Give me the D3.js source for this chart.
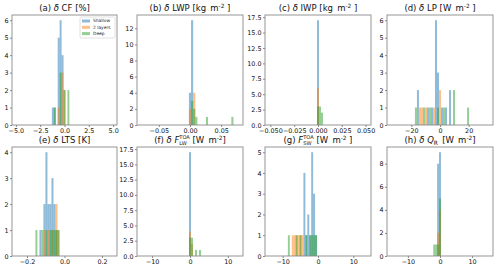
<!DOCTYPE html>
<html><head><meta charset="utf-8">
<script src="https://cdn.jsdelivr.net/npm/d3@7"></script>
<style>
body{margin:0;background:#fff;}
svg{display:block;}
text{font-family:"DejaVu Sans",sans-serif;}
</style>
</head><body>
<svg id="chart" width="500" height="268"></svg>
<script>
// ---------------- data ----------------
const seriesNames = ["Shallow", "2 layers", "Deep"];
const panelLetters = ["a", "b", "c", "d", "e", "f", "g", "h"];
// histogram bin widths (shared by the three groups in each panel)
const binWidths = [0.2, 0.0034, 0.0021, 1.4, 0.0107, 0.53, 0.55, 0.6];
// symmetric x-limits
const xLimits = [5.4, 0.085, 0.0557, 37, 0.28, 14, 15, 16.5];
const xTicks = [[-5, -2.5, 0, 2.5, 5], [-0.05, 0, 0.05], [-0.05, -0.025, 0, 0.025, 0.05], [-20, 0, 20],
                [-0.2, 0, 0.2], [-10, 0, 10], [-10, 0, 10], [-10, 0, 10]];
const xTickFormats = [".1f", ".2f", ".3f", "d", ".1f", "d", "d", "d"];
const yTicks = [[0, 1, 2, 3, 4, 5, 6], [0, 2, 4, 6, 8, 10, 12], [0, 2.5, 5, 7.5, 10, 12.5, 15, 17.5], [0, 1, 2, 3, 4, 5, 6],
                [0, 1, 2, 3, 4], [0, 2.5, 5, 7.5, 10, 12.5, 15, 17.5], [0, 1, 2, 3, 4, 5], [0, 2, 4, 6, 8]];
const yTickFormats = ["d", "d", ".1f", "d", "d", ".1f", "d", "d"];

// [bin centre, count]
const cfShallow = [[-1.2, 1], [-1.0, 1], [-0.6, 5], [-0.4, 6], [-0.2, 4]];
const cfTwoLayers = [[-0.6, 1], [-0.2, 3], [0.0, 2]];
const cfDeep = [[-1.0, 1], [-0.4, 3], [0.0, 2], [0.4, 2]];

const lwpShallow = [[0, 4], [0.0034, 13]];
const lwpTwoLayers = [[0, 2], [0.0068, 4]];
const lwpDeep = [[0.0034, 3], [0.0068, 2], [0.0102, 1], [0.0272, 1], [0.068, 1]];

const iwpShallow = [[0, 17]];
const iwpTwoLayers = [[0, 6]];
const iwpDeep = [[0, 3], [0.0021, 3], [0.0042, 2]];

const lpShallow = [[-15.4, 2], [-8.4, 1], [-5.6, 1], [-2.8, 6], [-1.4, 3], [1.4, 1], [4.2, 1], [7.0, 2]];
const lpTwoLayers = [[-14.0, 1], [-12.6, 1], [-9.8, 1], [-4.2, 1], [0.0, 2]];
const lpDeep = [[-16.8, 1], [-11.2, 1], [-7.0, 1], [-1.4, 1], [2.8, 1], [9.8, 2], [19.6, 1]];

const ltsShallow = [[-0.1284, 1], [-0.107, 2], [-0.0963, 4], [-0.0856, 2], [-0.0749, 2], [-0.0642, 3], [-0.0535, 2], [-0.0428, 1]];
const ltsTwoLayers = [[-0.107, 1], [-0.0856, 1], [-0.0642, 1], [-0.0428, 2], [-0.0321, 1]];
const ltsDeep = [[-0.1498, 1], [-0.1177, 1], [-0.0963, 1], [-0.0749, 1], [-0.0642, 1], [-0.0535, 1], [-0.0428, 1], [-0.0321, 1]];

const lwShallow = [[0, 17]];
const lwTwoLayers = [[0, 4], [0.53, 2]];
const lwDeep = [[0, 3], [0.53, 3], [1.59, 1], [2.65, 1]];

const swShallow = [[-3.85, 4], [-3.3, 1], [-2.75, 2], [-2.2, 1], [-1.65, 5], [-1.1, 3], [-0.55, 1]];
const swTwoLayers = [[-7.15, 1], [-6.6, 1], [-6.05, 1], [-5.5, 1], [-4.95, 1], [-4.4, 1]];
const swDeep = [[-8.25, 1], [-6.05, 1], [-4.95, 1], [-3.3, 1], [-2.2, 1], [-1.65, 1], [-1.1, 1], [-0.55, 1]];

const qrShallow = [[-0.6, 8], [0, 9]];
const qrTwoLayers = [[-0.6, 2], [0, 4]];
const qrDeep = [[-1.8, 1], [-1.2, 1], [-0.6, 1], [0, 5]];

const panelData = [
  [cfShallow, cfTwoLayers, cfDeep],
  [lwpShallow, lwpTwoLayers, lwpDeep],
  [iwpShallow, iwpTwoLayers, iwpDeep],
  [lpShallow, lpTwoLayers, lpDeep],
  [ltsShallow, ltsTwoLayers, ltsDeep],
  [lwShallow, lwTwoLayers, lwDeep],
  [swShallow, swTwoLayers, swDeep],
  [qrShallow, qrTwoLayers, qrDeep]
];

// title pieces: t text, it italic, k: "sup" | "sub" | "subStack"
const titles = [
  [{t: "(a) "}, {t: "δ", it: 1}, {t: " CF [%]"}],
  [{t: "(b) "}, {t: "δ", it: 1}, {t: " LWP [kg\u2002m"}, {t: "-2", k: "sup"}, {t: " ]"}],
  [{t: "(c) "}, {t: "δ", it: 1}, {t: " IWP [kg\u2002m"}, {t: "-2", k: "sup"}, {t: " ]"}],
  [{t: "(d) "}, {t: "δ", it: 1}, {t: " LP [W\u2002m"}, {t: "-2", k: "sup"}, {t: " ]"}],
  [{t: "(e) "}, {t: "δ", it: 1}, {t: " LTS [K]"}],
  [{t: "(f) "}, {t: "δ", it: 1}, {t: " "}, {t: "F", it: 1}, {t: "TOA", k: "supStack"}, {t: "LW", k: "subStack"}, {t: " [W\u2002m"}, {t: "-2", k: "sup"}, {t: "]"}],
  [{t: "(g) "}, {t: "F", it: 1}, {t: "TOA", k: "supStack"}, {t: "SW", k: "subStack"}, {t: " [W\u2002m"}, {t: "-2", k: "sup"}, {t: " ]"}],
  [{t: "(h) "}, {t: "δ", it: 1}, {t: " "}, {t: "Q", it: 1}, {t: "R", k: "sub"}, {t: "\u2002[W\u2002m"}, {t: "-2", k: "sup"}, {t: "]"}]
];

// ---------------- styling / layout ----------------
const colors = ["#1f77b4", "#ff7f0e", "#2ca02c"];
const colLeft = [12, 137, 265, 387];
const colRight = [117, 243, 371, 493];
const rowTop = [15, 147];
const rowBottom = [125, 256];
const titleFs = 8.5, tickFs = 6.4;

const svg = d3.select("#chart");

function fmt(f, v) {
  return d3.format(f)(v).replace("-", "\u2212");
}

function drawTitle(g, pieces, cx, baseY) {
  const tg = g.append("g");
  let cursor = 0, prevStart = 0;
  pieces.forEach(p => {
    let fs = titleFs, dy = 0, x = cursor;
    if (p.k === "sup") { fs = titleFs * 0.68; dy = -0.4 * titleFs; }
    if (p.k === "supStack") { fs = titleFs * 0.6; dy = -0.5 * titleFs; }
    if (p.k === "sub") { fs = titleFs * 0.68; dy = 0.18 * titleFs; }
    if (p.k === "subStack") { fs = titleFs * 0.6; dy = 0.28 * titleFs; x = prevStart; }
    const t = tg.append("text").attr("x", x).attr("y", dy).attr("font-size", fs)
      .attr("fill", "#111").style("white-space", "pre")
      .attr("font-style", p.it ? "italic" : null).text(p.t);
    const w = t.node().getComputedTextLength();
    prevStart = x;
    cursor = Math.max(cursor, x + w);
  });
  tg.attr("transform", `translate(${cx - cursor / 2},${baseY})`);
}

panelData.forEach((series, i) => {
  const col = i % 4, row = Math.floor(i / 4);
  const x0 = colLeft[col], x1 = colRight[col], y0 = rowTop[row], y1 = rowBottom[row];
  const L = xLimits[i], w = binWidths[i];
  const x = d3.scaleLinear().domain([-L, L]).range([x0, x1]);
  const maxC = d3.max(series, s => d3.max(s, d => d[1]));
  const y = d3.scaleLinear().domain([0, maxC * 1.05]).range([y1, y0]);
  const g = svg.append("g");

  series.forEach((s, si) => {
    g.append("g").selectAll("rect").data(s).join("rect")
      .attr("x", d => x(d[0] - w / 2))
      .attr("width", d => Math.max(0.5, x(d[0] + w / 2) - x(d[0] - w / 2)))
      .attr("y", d => y(d[1]))
      .attr("height", d => y(0) - y(d[1]))
      .attr("fill", colors[si]).attr("fill-opacity", 0.5);
  });

  // axes
  const ax = g.append("g").attr("transform", `translate(0,${y1})`)
    .call(d3.axisBottom(x).tickValues(xTicks[i]).tickFormat(v => fmt(xTickFormats[i], v)).tickSize(2).tickPadding(1.2));
  const ay = g.append("g").attr("transform", `translate(${x0},0)`)
    .call(d3.axisLeft(y).tickValues(yTicks[i]).tickFormat(v => fmt(yTickFormats[i], v)).tickSize(2).tickPadding(1.5));
  [ax, ay].forEach(a => {
    a.select(".domain").remove();
    a.selectAll("line").attr("stroke", "#555").attr("stroke-width", 0.7);
    a.selectAll("text").attr("font-size", tickFs).attr("fill", "#111").attr("font-family", "DejaVu Sans");
  });

  g.append("rect").attr("x", x0).attr("y", y0).attr("width", x1 - x0).attr("height", y1 - y0)
    .attr("fill", "none").attr("stroke", "#8a8a8a").attr("stroke-width", 0.9);

  drawTitle(g, titles[i], (x0 + x1) / 2, y0 - 4);

  if (i === 0) {
    const lg = g.append("g").attr("transform", `translate(${x1 - 37},${y0 + 2})`);
    lg.append("rect").attr("width", 35).attr("height", 21).attr("rx", 1.5)
      .attr("fill", "#fff").attr("fill-opacity", 0.8).attr("stroke", "#ccc").attr("stroke-width", 0.6);
    seriesNames.forEach((n, k) => {
      lg.append("rect").attr("x", 2).attr("y", 2.5 + k * 6.3).attr("width", 8).attr("height", 3)
        .attr("fill", colors[k]).attr("fill-opacity", 0.5);
      lg.append("text").attr("x", 13).attr("y", 5.4 + k * 6.3).attr("font-size", 4.4)
        .attr("fill", "#222").text(n);
    });
  }
});
</script>
</body></html>
